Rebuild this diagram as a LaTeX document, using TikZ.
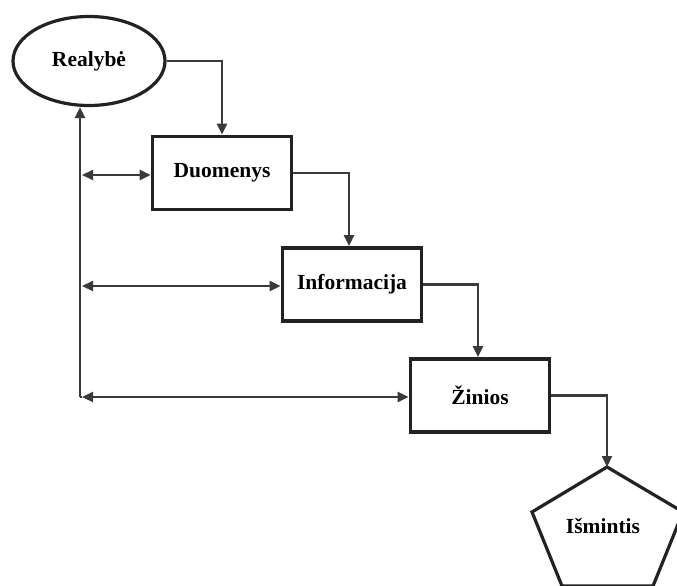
\documentclass[tikz,border=0pt]{standalone}
\usepackage{fontspec}
\setmainfont{Liberation Serif}
\usetikzlibrary{arrows.meta,shapes.geometric}
\definecolor{linegray}{HTML}{3A3A3A}
\definecolor{boxgray}{HTML}{222222}
\begin{document}
\begin{tikzpicture}[x=1pt,y=-1pt,
  tip/.tip={Triangle[length=11pt,width=10pt]},
  conn/.style={draw=linegray,line width=2.2pt,-tip},
  both/.style={draw=linegray,line width=2.2pt,tip-tip},
  label/.style={font=\fontsize{21.5}{25}\selectfont\bfseries,text=black},
  stage/.style={label,draw=boxgray,line width=3.8pt,fill=white,
    minimum width=139pt,minimum height=73pt,inner sep=0pt},
  reality/.style={label,ellipse,draw=boxgray,line width=3.2pt,fill=white,
    minimum width=152pt,minimum height=89pt,inner sep=0pt}]
\useasboundingbox (0,0) rectangle (677,586);

% stages of the hierarchy
\node[reality] (real) at (89,61) {Realybė};
\node[stage] (duo) at (222,173) {Duomenys};
\node[stage] (info) at (352,284.5) {Informacija};
\node[stage] (zin) at (480,395.5) {Žinios};

% wisdom pentagon (partly beyond the lower and right edges)
\coordinate (ismtop) at (607,467);
\draw[draw=boxgray,line width=3.2pt,line join=miter]
  (ismtop) -- (683,512) -- (653,586) -- (562,586) -- (532,512) -- cycle;
\node[label] (ism) at (603,526) {Išmintis};

% downward chain
\draw[conn] (real.east) -| (duo.north);
\draw[conn] (duo.east) -| ([xshift=-3pt]info.north);
\draw[conn] (info.east) -| ([xshift=-2pt]zin.north);
\draw[conn] (zin.east) -| (ismtop);

% feedback to reality
\coordinate (corner) at (80,397);
\draw[conn] (corner) -- (corner |- real.south);
\coordinate (l1) at (82,175);
\coordinate (l2) at (82,286);
\coordinate (l3) at (82,397);
\draw[draw=linegray,line width=2.2pt] (corner) -- (l3);
\draw[both] (l1) -- (duo.west |- l1);
\draw[both] (l2) -- (info.west |- l2);
\draw[both] (l3) -- (zin.west |- l3);
\end{tikzpicture}
\end{document}
